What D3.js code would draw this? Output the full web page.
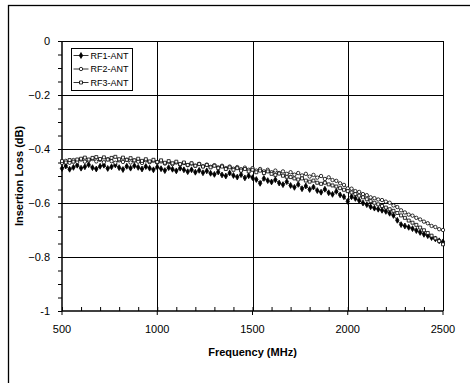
<!DOCTYPE html>
<html>
<head>
<meta charset="utf-8">
<script src="https://cdn.jsdelivr.net/npm/d3@7"></script>
<style>
  body { margin: 0; background: #fff; }
  svg { display: block; font-family: 'Liberation Sans', Arial, sans-serif; }
</style>
</head>
<body>
<div id="chart"></div>
<script>
// Frequency sweep (MHz)
const freqs = [
  500, 520, 540, 560, 580, 600, 620, 640, 660, 680,
  700, 720, 740, 760, 780, 800, 820, 840, 860, 880,
  900, 920, 940, 960, 980, 1000, 1020, 1040, 1060, 1080,
  1100, 1120, 1140, 1160, 1180, 1200, 1220, 1240, 1260, 1280,
  1300, 1320, 1340, 1360, 1380, 1400, 1420, 1440, 1460, 1480,
  1500, 1520, 1540, 1560, 1580, 1600, 1620, 1640, 1660, 1680,
  1700, 1720, 1740, 1760, 1780, 1800, 1820, 1840, 1860, 1880,
  1900, 1920, 1940, 1960, 1980, 2000, 2020, 2040, 2060, 2080,
  2100, 2120, 2140, 2160, 2180, 2200, 2220, 2240, 2260, 2280,
  2300, 2320, 2340, 2360, 2380, 2400, 2420, 2440, 2460, 2480,
  2500
];

// Insertion loss (dB)
const rf1 = [
  -0.472, -0.463, -0.475, -0.468, -0.460, -0.471, -0.466, -0.458, -0.469, -0.474,
  -0.464, -0.460, -0.472, -0.466, -0.459, -0.469, -0.476, -0.464, -0.471, -0.462,
  -0.468, -0.474, -0.465, -0.471, -0.477, -0.467, -0.473, -0.480, -0.469, -0.475,
  -0.481, -0.471, -0.477, -0.484, -0.477, -0.486, -0.479, -0.488, -0.481, -0.490,
  -0.494, -0.485, -0.496, -0.500, -0.489, -0.498, -0.504, -0.495, -0.507, -0.499,
  -0.506, -0.513, -0.527, -0.509, -0.517, -0.522, -0.514, -0.526, -0.532, -0.521,
  -0.535, -0.542, -0.531, -0.547, -0.537, -0.550, -0.541, -0.554, -0.560, -0.549,
  -0.562, -0.568, -0.557, -0.570, -0.577, -0.594, -0.577, -0.583, -0.591, -0.600,
  -0.606, -0.614, -0.619, -0.623, -0.627, -0.631, -0.638, -0.646, -0.664, -0.680,
  -0.685, -0.690, -0.695, -0.702, -0.709, -0.716, -0.721, -0.728, -0.733, -0.740,
  -0.744
];

const rf2 = [
  -0.452, -0.444, -0.451, -0.441, -0.448, -0.439, -0.447, -0.443, -0.437, -0.446,
  -0.440, -0.449, -0.438, -0.445, -0.451, -0.442, -0.448, -0.440, -0.450, -0.443,
  -0.447, -0.452, -0.442, -0.449, -0.444, -0.451, -0.446, -0.454, -0.448, -0.456,
  -0.450, -0.458, -0.452, -0.460, -0.454, -0.462, -0.455, -0.464, -0.458, -0.466,
  -0.460, -0.468, -0.462, -0.471, -0.465, -0.473, -0.467, -0.475, -0.469, -0.477,
  -0.471, -0.480, -0.474, -0.483, -0.477, -0.486, -0.480, -0.489, -0.483, -0.492,
  -0.486, -0.495, -0.489, -0.498, -0.492, -0.502, -0.496, -0.506, -0.500, -0.511,
  -0.505, -0.515, -0.518, -0.527, -0.533, -0.546, -0.547, -0.556, -0.559, -0.567,
  -0.571, -0.579, -0.582, -0.587, -0.589, -0.595, -0.599, -0.609, -0.615, -0.627,
  -0.635, -0.643, -0.647, -0.655, -0.661, -0.669, -0.675, -0.685, -0.689, -0.697,
  -0.700
];

const rf3 = [
  -0.445, -0.450, -0.441, -0.447, -0.439, -0.436, -0.432, -0.439, -0.433, -0.430,
  -0.437, -0.431, -0.439, -0.433, -0.429, -0.438, -0.432, -0.440, -0.434, -0.442,
  -0.436, -0.444, -0.438, -0.446, -0.440, -0.448, -0.442, -0.451, -0.445, -0.453,
  -0.447, -0.456, -0.450, -0.459, -0.453, -0.462, -0.456, -0.465, -0.459, -0.468,
  -0.462, -0.471, -0.465, -0.474, -0.468, -0.477, -0.471, -0.480, -0.474, -0.483,
  -0.477, -0.486, -0.480, -0.489, -0.483, -0.492, -0.496, -0.491, -0.499, -0.503,
  -0.504, -0.509, -0.513, -0.509, -0.517, -0.521, -0.517, -0.525, -0.529, -0.525,
  -0.531, -0.535, -0.539, -0.545, -0.551, -0.556, -0.561, -0.567, -0.573, -0.579,
  -0.586, -0.593, -0.599, -0.605, -0.611, -0.617, -0.623, -0.629, -0.637, -0.646,
  -0.655, -0.665, -0.673, -0.681, -0.691, -0.701, -0.711, -0.721, -0.731, -0.741,
  -0.753
];

const seriesNames = ['RF1-ANT', 'RF2-ANT', 'RF3-ANT'];
const xTicks = [500, 1000, 1500, 2000, 2500];
const yTicks = [0, -0.2, -0.4, -0.6, -0.8, -1];

const width = 470;
const height = 383;
const margin = { top: 41, right: 27, bottom: 72, left: 62 };

const svg = d3.select('#chart')
  .append('svg')
  .attr('width', width)
  .attr('height', height);

// Outer chart frame (only top and left edges fall inside the picture)
svg.append('rect')
  .attr('x', 8.5)
  .attr('y', 5.5)
  .attr('width', 500)
  .attr('height', 400)
  .attr('fill', 'none')
  .attr('stroke', '#000')
  .attr('stroke-width', 1.3);

const x = d3.scaleLinear()
  .domain([500, 2500])
  .range([margin.left, width - margin.right]);

const y = d3.scaleLinear()
  .domain([-1, 0])
  .range([height - margin.bottom, margin.top]);

const g = svg.append('g');

// Grid lines
g.append('g')
  .selectAll('line')
  .data(yTicks.filter(d => d !== -1))
  .join('line')
  .attr('x1', x(500))
  .attr('x2', x(2500))
  .attr('y1', d => Math.round(y(d)) + 0.5)
  .attr('y2', d => Math.round(y(d)) + 0.5)
  .attr('stroke', '#000')
  .attr('stroke-width', 1);

g.append('g')
  .selectAll('line')
  .data(xTicks.filter(d => d !== 500))
  .join('line')
  .attr('x1', d => Math.round(x(d)) + 0.5)
  .attr('x2', d => Math.round(x(d)) + 0.5)
  .attr('y1', y(0))
  .attr('y2', y(-1))
  .attr('stroke', '#000')
  .attr('stroke-width', 1);

// Y axis with minor ticks outward
const yAxisG = g.append('g')
  .attr('transform', `translate(${x(500)},0)`);

yAxisG.call(d3.axisLeft(y).tickValues(d3.range(-1, 0.001, 0.05)).tickSize(4).tickFormat(''));
yAxisG.select('.domain').remove();
yAxisG.selectAll('line').attr('stroke', '#000');

yAxisG.selectAll('.major')
  .data(yTicks)
  .join('text')
  .attr('class', 'major')
  .attr('x', -12)
  .attr('y', d => y(d))
  .attr('dy', '0.35em')
  .attr('text-anchor', 'end')
  .attr('font-size', 11)
  .attr('fill', '#000')
  .text(d => d === 0 ? '0' : d === -1 ? '-1' : d3.format('.1f')(d));

yAxisG.append('line')
  .attr('x1', 0).attr('x2', 0)
  .attr('y1', y(0)).attr('y2', y(-1))
  .attr('stroke', '#000')
  .attr('stroke-width', 1.5);

// X axis: minor ticks inward, major ticks crossing
const xAxisG = g.append('g')
  .attr('transform', `translate(0,${y(-1)})`);

xAxisG.call(d3.axisTop(x).tickValues(d3.range(500, 2501, 100)).tickSize(4).tickFormat(''));
xAxisG.select('.domain').remove();
xAxisG.selectAll('line').attr('stroke', '#000');

xAxisG.selectAll('.major-tick')
  .data(xTicks)
  .join('line')
  .attr('class', 'major-tick')
  .attr('x1', d => x(d)).attr('x2', d => x(d))
  .attr('y1', 0).attr('y2', 4)
  .attr('stroke', '#000');

xAxisG.selectAll('.major')
  .data(xTicks)
  .join('text')
  .attr('class', 'major')
  .attr('x', d => x(d))
  .attr('y', 22)
  .attr('text-anchor', 'middle')
  .attr('font-size', 11)
  .attr('fill', '#000')
  .text(d => d);

xAxisG.append('line')
  .attr('x1', x(500)).attr('x2', x(2500))
  .attr('y1', 0).attr('y2', 0)
  .attr('stroke', '#000')
  .attr('stroke-width', 1.5);

// Axis titles
svg.append('text')
  .attr('x', (x(500) + x(2500)) / 2)
  .attr('y', 356)
  .attr('text-anchor', 'middle')
  .attr('font-size', 11)
  .attr('font-weight', 'bold')
  .text('Frequency (MHz)');

svg.append('text')
  .attr('transform', `translate(23,${(y(0) + y(-1)) / 2}) rotate(-90)`)
  .attr('text-anchor', 'middle')
  .attr('font-size', 11)
  .attr('font-weight', 'bold')
  .text('Insertion Loss (dB)');

// Series
const diamond = d3.symbol().type(d3.symbolDiamond).size(10);
const circle = d3.symbol().type(d3.symbolCircle).size(9);
const square = d3.symbol().type(d3.symbolSquare).size(9);

const series = [
  { name: seriesNames[0], values: rf1, symbol: diamond, fill: '#000' },
  { name: seriesNames[1], values: rf2, symbol: circle, fill: '#fff' },
  { name: seriesNames[2], values: rf3, symbol: square, fill: '#fff' }
];

const line = d3.line()
  .x((d, i) => x(freqs[i]))
  .y(d => y(d));

series.forEach(s => {
  const sg = g.append('g');
  sg.append('path')
    .datum(s.values)
    .attr('d', line)
    .attr('fill', 'none')
    .attr('stroke', '#000')
    .attr('stroke-width', 0.8);
  sg.selectAll('path.pt')
    .data(s.values)
    .join('path')
    .attr('class', 'pt')
    .attr('transform', (d, i) => `translate(${x(freqs[i])},${y(d)})`)
    .attr('d', s.symbol)
    .attr('fill', s.fill)
    .attr('stroke', '#000')
    .attr('stroke-width', 0.8);
});

// Legend
const legend = svg.append('g').attr('transform', 'translate(71.5,48.5)');
legend.append('rect')
  .attr('width', 61)
  .attr('height', 42)
  .attr('fill', '#fff')
  .attr('stroke', '#000')
  .attr('stroke-width', 1);

const items = legend.selectAll('g.item')
  .data(series)
  .join('g')
  .attr('class', 'item')
  .attr('transform', (d, i) => `translate(0,${7 + i * 13.5})`);

items.append('line')
  .attr('x1', 2).attr('x2', 17)
  .attr('stroke', '#000')
  .attr('stroke-width', 0.8);
items.append('path')
  .attr('transform', 'translate(9.5,0)')
  .attr('d', d => d.symbol())
  .attr('fill', d => d.fill)
  .attr('stroke', '#000')
  .attr('stroke-width', 0.8);
items.append('text')
  .attr('x', 19)
  .attr('dy', '0.35em')
  .attr('font-size', 9)
  .text(d => d.name);
</script>
</body>
</html>
